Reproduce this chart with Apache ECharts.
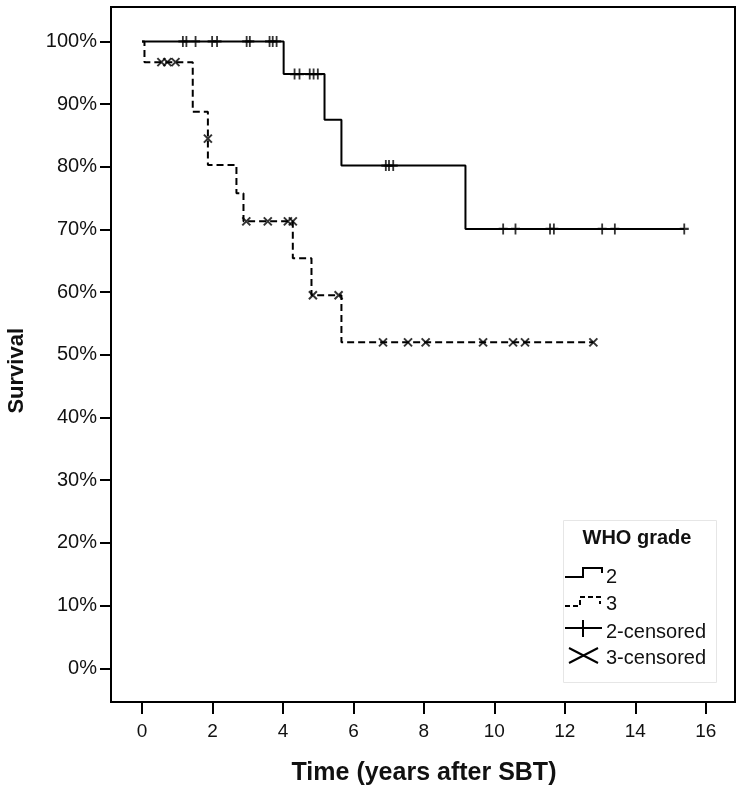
<!DOCTYPE html>
<html>
<head>
<meta charset="utf-8">
<script src="https://cdn.jsdelivr.net/npm/echarts@6/dist/echarts.min.js"></script>
<style>html,body{margin:0;padding:0;background:#fff}#c{width:746px;height:793px}</style>
</head>
<body>
<div id="c"></div>
<script>
// ---- Data ----
const xTicks = [0, 2, 4, 6, 8, 10, 12, 14, 16];
const yTicks = [0, 10, 20, 30, 40, 50, 60, 70, 80, 90, 100];

// WHO grade 2 : Kaplan-Meier steps
const g2Start = 100;
const g2EventTimes = [4.02, 5.18, 5.66, 9.18];
const g2EventLevels = [94.8, 87.5, 80.2, 70.1];
const g2EndTime = 15.39;
// grade 2 censored
const g2CensorTimes  = [1.16, 1.26, 1.52, 1.99, 2.13, 2.97, 3.06, 3.62, 3.71, 3.82,
                        4.33, 4.47, 4.76, 4.87, 4.99,
                        6.92, 7.01, 7.13,
                        10.25, 10.60, 11.58, 11.69, 13.06, 13.42, 15.39];
const g2CensorLevels = [100, 100, 100, 100, 100, 100, 100, 100, 100, 100,
                        94.8, 94.8, 94.8, 94.8, 94.8,
                        80.2, 80.2, 80.2,
                        70.1, 70.1, 70.1, 70.1, 70.1, 70.1, 70.1];

// WHO grade 3 : Kaplan-Meier steps
const g3Start = 100;
const g3EventTimes = [0.07, 1.44, 1.87, 1.87, 2.68, 2.88, 4.28, 4.81, 5.66];
const g3EventLevels = [96.7, 88.8, 84.5, 80.3, 75.8, 71.3, 65.4, 59.5, 52.0];
const g3EndTime = 12.81;
// grade 3 censored
const g3CensorTimes  = [0.55, 0.72, 0.95, 1.87, 2.96, 3.57, 4.14, 4.28, 4.85, 5.58,
                        6.84, 7.55, 8.05, 9.68, 10.53, 10.87, 12.81];
const g3CensorLevels = [96.7, 96.7, 96.7, 84.5, 71.3, 71.3, 71.3, 71.3, 59.5, 59.5,
                        52.0, 52.0, 52.0, 52.0, 52.0, 52.0, 52.0];

const legendTitle = 'WHO grade';
const legendLabels = ['2', '3', '2-censored', '3-censored'];

// ---- Build step paths ----
function stepPath(start, times, levels, end) {
  const pts = [[0, start]];
  let prev = start;
  for (let i = 0; i < times.length; i++) {
    pts.push([times[i], prev]);
    pts.push([times[i], levels[i]]);
    prev = levels[i];
  }
  pts.push([end, prev]);
  return pts;
}
function pairs(a, b) { return a.map((v, i) => [v, b[i]]); }

const FONT = '"Liberation Sans", Arial, sans-serif';
const TXT = '#111';

const chart = echarts.init(document.getElementById('c'), null, {renderer: 'canvas'});
const option = {
  animation: false,
  backgroundColor: '#fff',
  grid: {left: 111, right: 11, top: 7, bottom: 91, show: true, borderColor: '#000', borderWidth: 2, backgroundColor: 'transparent'},
  xAxis: {
    type: 'value', min: -0.88, max: 16.83,
    axisLine: {show: true, onZero: false, lineStyle: {color: '#000', width: 2}},
    axisTick: {show: true, length: 12, lineStyle: {color: '#000', width: 2}, customValues: xTicks},
    axisLabel: {customValues: xTicks, color: TXT, fontFamily: FONT, fontSize: 19, margin: 20},
    splitLine: {show: false}
  },
  yAxis: {
    type: 'value', min: -5.38, max: 105.5,
    axisLine: {show: true, onZero: false, lineStyle: {color: '#000', width: 2}},
    axisTick: {show: true, length: 11, lineStyle: {color: '#000', width: 2}, customValues: yTicks},
    axisLabel: {customValues: yTicks, formatter: '{value}%', color: TXT, fontFamily: FONT, fontSize: 20, margin: 14},
    splitLine: {show: false}
  },
  series: [
    {name: '2', type: 'line', data: stepPath(g2Start, g2EventTimes, g2EventLevels, g2EndTime),
     showSymbol: false, lineStyle: {color: '#000', width: 2}, silent: true, z: 3},
    {name: '3', type: 'line', data: stepPath(g3Start, g3EventTimes, g3EventLevels, g3EndTime),
     showSymbol: false, lineStyle: {color: '#000', width: 2, type: [7, 4]}, silent: true, z: 3},
    {name: '2-censored', type: 'scatter', data: pairs(g2CensorTimes, g2CensorLevels),
     symbol: 'path://M5,0L5,10M0,5L10,5', symbolSize: [9, 11],
     itemStyle: {color: 'transparent', borderColor: '#000', borderWidth: 2}, silent: true, z: 4},
    {name: '3-censored', type: 'scatter', data: pairs(g3CensorTimes, g3CensorLevels),
     symbol: 'path://M0,0L10,10M0,10L10,0', symbolSize: [8, 8],
     itemStyle: {color: 'transparent', borderColor: '#000', borderWidth: 2}, silent: true, z: 4}
  ],
  graphic: [
    {type: 'text', left: 6, top: 328, rotation: Math.PI / 2,
     style: {text: 'Survival', font: 'bold 22px ' + FONT, fill: TXT}},
    {type: 'text', x: 424, y: 773,
     style: {text: 'Time (years after SBT)', font: 'bold 25px ' + FONT, fill: TXT, align: 'center', verticalAlign: 'middle'}},
    // legend
    {type: 'rect', shape: {x: 563.5, y: 520.5, width: 153, height: 162},
     style: {fill: 'transparent', stroke: '#e6e6e6', lineWidth: 1}},
    {type: 'text', x: 637, y: 538,
     style: {text: legendTitle, font: 'bold 20px ' + FONT, fill: TXT, align: 'center', verticalAlign: 'middle'}},
    {type: 'polyline', shape: {points: [[565, 577], [583, 577], [583, 568], [602, 568], [602, 573]]},
     style: {stroke: '#000', lineWidth: 2, fill: null}},
    {type: 'text', x: 606, y: 577, style: {text: legendLabels[0], font: '20px ' + FONT, fill: TXT, verticalAlign: 'middle'}},
    {type: 'polyline', shape: {points: [[565, 606], [580, 606], [580, 597], [600, 597], [600, 604]]},
     style: {stroke: '#000', lineWidth: 2, fill: null, lineDash: [5, 3]}},
    {type: 'text', x: 606, y: 604, style: {text: legendLabels[1], font: '20px ' + FONT, fill: TXT, verticalAlign: 'middle'}},
    {type: 'line', shape: {x1: 565, y1: 628, x2: 602, y2: 628}, style: {stroke: '#000', lineWidth: 2}},
    {type: 'line', shape: {x1: 583, y1: 620, x2: 583, y2: 637}, style: {stroke: '#000', lineWidth: 2}},
    {type: 'text', x: 606, y: 632, style: {text: legendLabels[2], font: '20px ' + FONT, fill: TXT, verticalAlign: 'middle'}},
    {type: 'line', shape: {x1: 569, y1: 648, x2: 598, y2: 663}, style: {stroke: '#000', lineWidth: 2}},
    {type: 'line', shape: {x1: 569, y1: 663, x2: 598, y2: 648}, style: {stroke: '#000', lineWidth: 2}},
    {type: 'text', x: 606, y: 658, style: {text: legendLabels[3], font: '20px ' + FONT, fill: TXT, verticalAlign: 'middle'}}
  ]
};
chart.setOption(option);
</script>
</body>
</html>
